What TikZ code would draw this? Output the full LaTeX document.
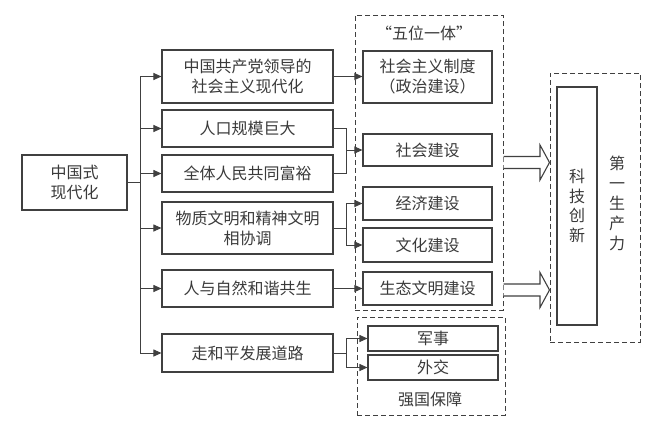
\documentclass[tikz,border=0pt]{standalone}
\usepackage{fontspec}
\newfontfamily\cjk{Noto Sans CJK SC}
\usetikzlibrary{arrows.meta}
\definecolor{linec}{HTML}{404040}
\definecolor{txt}{HTML}{3A3A3A}
\begin{document}
\begin{tikzpicture}[x=1pt,y=-1pt,
  box/.style={draw=linec, line width=1.1pt, inner sep=0pt, align=center, text=txt,
    font=\cjk\fontsize{16}{20}\selectfont},
  lbl/.style={inner sep=0pt, align=center, text=txt, font=\cjk\fontsize{16}{20}\selectfont},
  dbox/.style={draw=linec, line width=1pt, dash pattern=on 5pt off 3pt, inner sep=0pt},
  arr/.style={draw=linec, line width=1pt, -{Triangle[length=8pt,width=7pt]}},
  ln/.style={draw=linec, line width=1pt},
  hollow/.style={draw=linec, line width=1.1pt, fill=white}]
\useasboundingbox (0,0) rectangle (650,423);
% main
\node[box, minimum width=105pt, minimum height=55pt] (main) at (74.5,182.5) {中国式\\现代化};
% left column
\node[box, minimum width=171pt, minimum height=53pt] (L1) at (247.5,76.5) {中国共产党领导的\\社会主义现代化};
\node[box, minimum width=171pt, minimum height=37pt] (L2) at (247.5,128.5) {人口规模巨大};
\node[box, minimum width=171pt, minimum height=37pt] (L3) at (247.5,173.5) {全体人民共同富裕};
\node[box, minimum width=171pt, minimum height=52pt] (L4) at (247.5,228) {物质文明和精神文明\\相协调};
\node[box, minimum width=171pt, minimum height=37pt] (L5) at (247.5,288.5) {人与自然和谐共生};
\node[box, minimum width=171pt, minimum height=38pt] (L6) at (247.5,353) {走和平发展道路};
% dashed groups
\node[dbox, minimum width=148pt, minimum height=295pt] (G1) at (429,162.5) {};
\node[lbl] (G1t) at (424,33) {“五位一体”};
\node[dbox, minimum width=148pt, minimum height=98pt] (G2) at (431,366) {};
\node[lbl] (G2t) at (430,399) {强国保障};
\node[dbox, minimum width=90pt, minimum height=269pt] (G3) at (595,207.5) {};
% right column
\node[box, minimum width=129pt, minimum height=52pt] (R1) at (427.5,77) {社会主义制度\\（政治建设）};
\node[box, minimum width=129pt, minimum height=32pt] (R2) at (427.5,150) {社会建设};
\node[box, minimum width=129pt, minimum height=33pt] (R3) at (427.5,203.5) {经济建设};
\node[box, minimum width=129pt, minimum height=34pt] (R4) at (427.5,245) {文化建设};
\node[box, minimum width=129pt, minimum height=33pt] (R5) at (427.5,288.5) {生态文明建设};
\node[box, minimum width=130pt, minimum height=25pt] (M1) at (433,338.5) {军事};
\node[box, minimum width=130pt, minimum height=25pt] (M2) at (433,367.5) {外交};
% innovation
\node[box, minimum width=40pt, minimum height=238pt, font=\cjk\fontsize{16}{19.5}\selectfont] (K) at (577,206) {科\\技\\创\\新};
\node[lbl, font=\cjk\fontsize{16}{20}\selectfont] (P) at (617,203) {第\\一\\生\\产\\力};
% trunk
\coordinate (tx) at (140,0);
\draw[ln] (main.east) -- (tx |- main.east);
\draw[ln] (tx |- L1) -- (tx |- L6);
\foreach \n in {L1,L2,L3,L4,L5,L6} \draw[arr] (tx |- \n) -- (\n.west);
% to right column
\coordinate (jx) at (346,0);
\draw[arr] (L1.east) -- (L1.east -| R1.west);
\draw[ln] (L2.east) -- (jx |- L2) -- (jx |- L3) -- (L3.east);
\draw[arr] (jx |- R2) -- (R2.west);
\draw[ln] (L4.east) -- (jx |- L4);
\draw[ln] (jx |- R3) -- (jx |- R4);
\draw[arr] (jx |- R3) -- (R3.west);
\draw[arr] (jx |- R4) -- (R4.west);
\draw[arr] (L5.east) -- (L5.east -| R5.west);
\draw[ln] (L6.east) -- (jx |- L6);
\draw[ln] (jx |- M1) -- (jx |- M2);
\draw[arr] (jx |- M1) -- (M1.west);
\draw[arr] (jx |- M2) -- (M2.west);
% hollow arrows
\foreach \yc in {162.5,290} {
  \draw[hollow] (G1.east |- 0,\yc-6) -- (540,\yc-6) -- (540,\yc-17.5) -- (G3.west |- 0,\yc)
    -- (540,\yc+17.5) -- (540,\yc+6) -- (G1.east |- 0,\yc+6);
}
\end{tikzpicture}
\end{document}
